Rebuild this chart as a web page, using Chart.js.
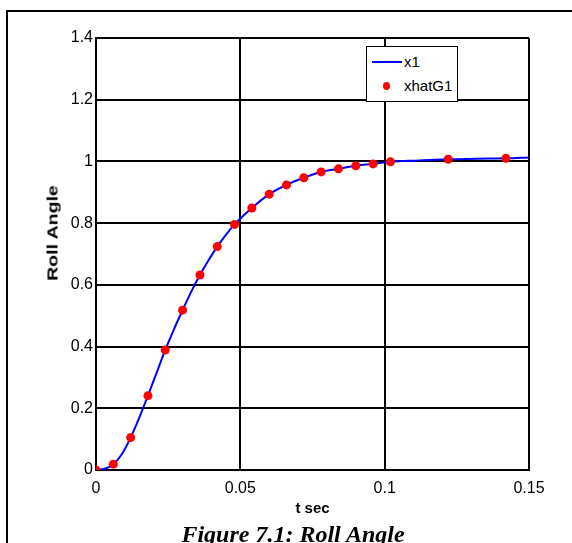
<!DOCTYPE html>
<html>
<head>
<meta charset="utf-8">
<script src="https://cdn.jsdelivr.net/npm/chart.js@4.4.0/dist/chart.umd.min.js"></script>
<style>
  html, body { margin: 0; padding: 0; background: #fff; }
  body { width: 572px; height: 543px; position: relative; overflow: hidden; font-family: 'Liberation Sans', Arial, sans-serif; }
  #frame { position: absolute; left: 6px; top: 10px; width: 620px; height: 620px; border-left: 2px solid #000; border-top: 2px solid #000; }
  #chart { position: absolute; left: 0; top: 0; }
  #ylab { position: absolute; left: 52px; top: 233px; font-weight: bold; font-size: 15px; white-space: nowrap;
          transform: translate(-50%, -50%) rotate(-90deg) scaleX(1.3); }
  #caption { position: absolute; left: 0; width: 586px; top: 522px; text-align: center; line-height: 24px;
             font-family: 'Liberation Serif', 'Times New Roman', serif; font-weight: bold; font-style: italic; font-size: 24px; }
  #legend { position: absolute; left: 366px; top: 46px; width: 90px; height: 54px; border: 1px solid #000; background: #fff; }
  #legend .ln { position: absolute; left: 5px; top: 14px; width: 30px; height: 2px; background: #0000ff; }
  #legend .dot { position: absolute; left: 16px; top: 35px; width: 7px; height: 8px; border-radius: 50%; background: #ff0000; }
  #legend .tx { position: absolute; left: 37px; font-size: 15px; line-height: 18px; }
</style>
</head>
<body>
<div id="frame"></div>
<canvas id="chart" width="572" height="543"></canvas>
<div id="ylab">Roll Angle</div>
<div id="legend">
  <div class="ln"></div><div class="tx" style="top:6px">x1</div>
  <div class="dot"></div><div class="tx" style="top:30px">xhatG1</div>
</div>
<div id="caption">Figure 7.1: Roll Angle</div>
<script>
// x1 (simulated response, line)
const tLine = [0, 0.003, 0.006, 0.009, 0.012, 0.015, 0.018, 0.021, 0.024, 0.027, 0.030, 0.033, 0.036, 0.039,
               0.042, 0.045, 0.048, 0.054, 0.060, 0.066, 0.072, 0.078, 0.084, 0.090, 0.096, 0.102, 0.112,
               0.122, 0.132, 0.142, 0.150];
const x1 = [0, 0.004, 0.019, 0.052, 0.105, 0.17, 0.241, 0.315, 0.389, 0.456, 0.518, 0.578, 0.632, 0.68,
            0.724, 0.762, 0.796, 0.849, 0.894, 0.924, 0.947, 0.966, 0.976, 0.986, 0.992, 0.999, 1.003,
            1.007, 1.009, 1.010, 1.013];

// xhatG1 (estimate, red dots)
const tDots = [0, 0.006, 0.012, 0.018, 0.024, 0.030, 0.036, 0.042, 0.048, 0.054, 0.060, 0.066, 0.072,
               0.078, 0.084, 0.090, 0.096, 0.102, 0.122, 0.142];
const xhatG1 = [0, 0.019, 0.105, 0.241, 0.389, 0.518, 0.632, 0.724, 0.796, 0.849, 0.894, 0.924, 0.947,
                0.966, 0.976, 0.986, 0.992, 0.999, 1.007, 1.010];

const xTickLabels = ['0', '0.05', '0.1', '0.15'];
const yTickLabels = ['0', '0.2', '0.4', '0.6', '0.8', '1', '1.2', '1.4'];

const tickFont = { family: "'Liberation Sans', Arial, sans-serif", size: 16 };

new Chart(document.getElementById('chart'), {
  type: 'scatter',
  data: {
    datasets: [
      {
        label: 'xhatG1',
        data: tDots.map((t, i) => ({ x: t, y: xhatG1[i] })),
        backgroundColor: '#ff0000',
        borderWidth: 0,
        pointRadius: 4.5,
        order: 0
      },
      {
        label: 'x1',
        data: tLine.map((t, i) => ({ x: t, y: x1[i] })),
        showLine: true,
        borderColor: '#0000ff',
        borderWidth: 2,
        pointRadius: 0,
        cubicInterpolationMode: 'monotone',
        order: 1
      }
    ]
  },
  options: {
    responsive: false,
    animation: false,
    devicePixelRatio: 1,
    layout: { padding: { left: 0, top: 38, right: 43, bottom: 0 } },
    plugins: { legend: { display: false }, tooltip: { enabled: false } },
    scales: {
      x: {
        type: 'linear',
        min: 0, max: 0.15,
        afterFit: s => { s.height = 73; },
        grid: { color: '#000', lineWidth: 2, drawTicks: false },
        border: { color: '#000', width: 2 },
        ticks: {
          stepSize: 0.05, padding: 9, color: '#000', font: tickFont, maxRotation: 0,
          callback: (v, i) => xTickLabels[i]
        },
        title: {
          display: true, text: 't sec', color: '#000',
          font: { family: "'Liberation Sans', Arial, sans-serif", size: 15, weight: 'bold' },
          padding: { top: 0, bottom: 25 }
        }
      },
      y: {
        min: 0, max: 1.4,
        afterFit: s => { s.width = 96; },
        grid: { color: '#000', lineWidth: 2, drawTicks: false },
        border: { color: '#000', width: 2 },
        ticks: {
          stepSize: 0.2, padding: 3, color: '#000', font: tickFont,
          callback: (v, i) => yTickLabels[i]
        }
      }
    }
  }
});
</script>
</body>
</html>
